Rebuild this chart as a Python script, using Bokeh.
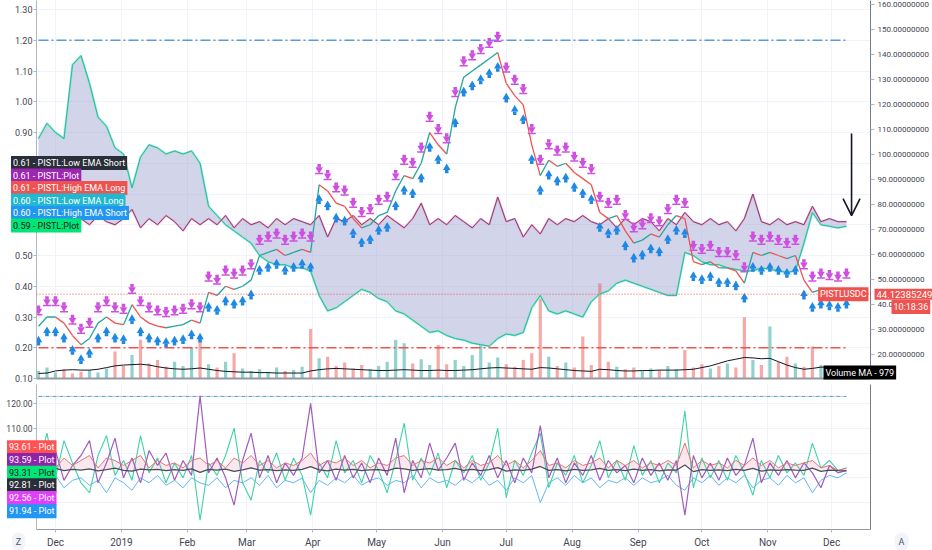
from datetime import date
from bokeh.plotting import figure
from bokeh.models import (Range1d, LinearAxis, FixedTicker, PrintfTickFormatter,
                          Span, Label, Arrow, OpenHead, ColumnDataSource, GridBox)
from bokeh.embed import file_html
from bokeh.resources import INLINE

# ---------------- data ----------------
ORIGIN = date(2018, 12, 1)
month_starts = [date(2018, 12, 1), date(2019, 1, 1), date(2019, 2, 1), date(2019, 3, 1),
                date(2019, 4, 1), date(2019, 5, 1), date(2019, 6, 1), date(2019, 7, 1),
                date(2019, 8, 1), date(2019, 9, 1), date(2019, 10, 1), date(2019, 11, 1),
                date(2019, 12, 1)]
month_labels = ["Dec", "2019", "Feb", "Mar", "Apr", "May", "Jun", "Jul", "Aug",
                "Sep", "Oct", "Nov", "Dec"]
tick_days = [(d - ORIGIN).days for d in month_starts]

# sample days (days since 1 Dec 2018), one sample every 4 days
days = list(range(-8, 376, 4))

price = [0.27, 0.30, 0.30, 0.28, 0.24, 0.21, 0.23, 0.28, 0.30, 0.28,
         0.275, 0.34, 0.30, 0.28, 0.27, 0.265, 0.27, 0.275, 0.29, 0.28,
         0.38, 0.37, 0.40, 0.39, 0.40, 0.42, 0.50, 0.51, 0.52, 0.50,
         0.51, 0.52, 0.51, 0.73, 0.71, 0.67, 0.66, 0.62, 0.59, 0.60,
         0.63, 0.64, 0.71, 0.76, 0.75, 0.80, 0.90, 0.86, 0.83, 0.98,
         1.08, 1.10, 1.12, 1.14, 1.16, 1.06, 1.02, 0.99, 0.86, 0.76,
         0.81, 0.79, 0.80, 0.77, 0.75, 0.73, 0.64, 0.62, 0.63, 0.58,
         0.54, 0.55, 0.57, 0.56, 0.60, 0.63, 0.62, 0.48, 0.47, 0.48,
         0.46, 0.46, 0.45, 0.41, 0.51, 0.50, 0.51, 0.50, 0.49, 0.50,
         0.42, 0.38, 0.39, 0.385, 0.38, 0.39]

low_ema_long = [0.88, 0.93, 0.90, 0.88, 1.12, 1.15, 1.06, 0.95, 0.92, 0.85,
                0.83, 0.72, 0.82, 0.86, 0.85, 0.83, 0.84, 0.83, 0.84, 0.80,
                0.66, 0.63, 0.60, 0.58, 0.56, 0.54, 0.50, 0.48, 0.47, 0.47,
                0.46, 0.46, 0.45, 0.37, 0.32, 0.33, 0.35, 0.37, 0.39, 0.38,
                0.36, 0.35, 0.32, 0.31, 0.29, 0.27, 0.25, 0.255, 0.24, 0.23,
                0.225, 0.215, 0.21, 0.205, 0.23, 0.245, 0.24, 0.25, 0.33, 0.37,
                0.32, 0.31, 0.32, 0.31, 0.30, 0.35, 0.375, 0.385, 0.41, 0.42,
                0.41, 0.40, 0.39, 0.38, 0.37, 0.37, 0.51, 0.50, 0.48, 0.47,
                0.47, 0.46, 0.455, 0.45, 0.45, 0.46, 0.455, 0.45, 0.445, 0.45,
                0.54, 0.64, 0.60, 0.595, 0.59, 0.595]

high_ema_long = [0.62, 0.60, 0.63, 0.61, 0.59, 0.62, 0.60, 0.63, 0.61, 0.60,
                 0.62, 0.65, 0.59, 0.62, 0.60, 0.63, 0.61, 0.58, 0.62, 0.60,
                 0.62, 0.60, 0.63, 0.59, 0.62, 0.60, 0.61, 0.59, 0.62, 0.60,
                 0.62, 0.61, 0.60, 0.63, 0.56, 0.62, 0.61, 0.63, 0.60, 0.62,
                 0.60, 0.63, 0.61, 0.59, 0.62, 0.67, 0.60, 0.62, 0.60, 0.63,
                 0.61, 0.59, 0.62, 0.60, 0.69, 0.61, 0.62, 0.56, 0.60, 0.57,
                 0.62, 0.60, 0.62, 0.61, 0.63, 0.61, 0.60, 0.62, 0.59, 0.62,
                 0.60, 0.62, 0.61, 0.58, 0.62, 0.60, 0.64, 0.61, 0.60, 0.62,
                 0.60, 0.61, 0.58, 0.62, 0.70, 0.61, 0.60, 0.62, 0.60, 0.61,
                 0.60, 0.66, 0.61, 0.62, 0.61, 0.61]

volume = [900, 1300, 700, 1100, 600, 800, 1000, 700, 1200, 3200,
          1500, 2800, 4600, 1800, 2200, 1400, 2000, 1500, 3700, 4600,
          1700, 1300, 2000, 3000, 1200, 900, 1100, 800, 1300, 900,
          1000, 1400, 5900, 2400, 2600, 1500, 1900, 1200, 1600, 1100,
          1500, 2000, 4600, 4200, 1800, 2300, 1600, 4000, 1700, 2200,
          1500, 2800, 4000, 1900, 2500, 1700, 1400, 2200, 3000, 9500,
          2600, 1500, 1900, 1300, 5000, 1600, 11300, 2000, 1400, 1100,
          1300, 900, 1200, 1000, 1500, 1100, 3400, 1300, 1700, 1200,
          1500, 1800, 1300, 7300, 2200, 1600, 6200, 2000, 2600, 1800,
          1400, 3800, 1600, 1100, 1300, 900]

volume_ma = [600, 650, 900, 1000, 1050, 1000, 1000, 1100, 1300, 1500,
             1600, 1650, 1700, 1600, 1400, 1250, 1150, 1100, 1150, 1250,
             1100, 950, 850, 800, 750, 750, 700, 700, 650, 650,
             650, 650, 900, 1050, 1150, 1200, 1150, 1100, 1050, 1000,
             950, 950, 1000, 1050, 1000, 950, 950, 1000, 950, 950,
             1000, 1050, 1150, 1250, 1300, 1250, 1200, 1150, 1100, 1300,
             1250, 1150, 1050, 950, 900, 850, 1100, 1050, 950, 900,
             900, 950, 950, 1000, 1000, 1000, 1050, 1100, 1300, 1500,
             1800, 2100, 2300, 2500, 2450, 2350, 2400, 2000, 1600, 1300,
             1100, 1200, 1350, 1350, 1300, 1300]

osc_green = [95, 108, 90, 105, 96, 88, 84, 99, 107, 91,
             97, 89, 107, 92, 98, 88, 96, 90, 99, 73,
             96, 91, 99, 110, 88, 81, 97, 92, 100, 89,
             98, 91, 75, 96, 90, 105, 92, 97, 88, 99,
             93, 84, 97, 112, 89, 98, 91, 100, 86, 97,
             92, 99, 89, 96, 110, 82, 97, 91, 100, 108,
             86, 96, 91, 99, 88, 95, 105, 90, 97, 89,
             103, 91, 97, 88, 96, 92, 117, 86, 98, 90,
             97, 89, 99, 92, 83, 97, 90, 99, 92, 96,
             91, 104, 94, 97, 93, 94]

osc_purple = [92, 97, 101, 89, 95, 99, 105, 88, 96, 106,
              90, 98, 88, 101, 95, 100, 89, 97, 91, 123,
              92, 98, 90, 79, 97, 108, 90, 99, 88, 96,
              91, 98, 120, 92, 97, 89, 99, 90, 96, 88,
              98, 91, 106, 84, 97, 90, 104, 93, 98, 104,
              89, 96, 91, 99, 90, 97, 88, 98, 92, 111,
              90, 98, 88, 96, 91, 99, 89, 97, 92, 95,
              88, 98, 91, 96, 89, 97, 75, 99, 90, 96,
              89, 98, 91, 95, 106, 88, 96, 91, 97, 90,
              96, 92, 86, 95, 92, 93]

osc_red = [96, 99, 94, 98, 95, 97, 99, 94, 98, 97,
           95, 97, 99, 94, 97, 95, 96, 94, 97, 98,
           95, 97, 94, 98, 96, 99, 95, 97, 94, 96,
           95, 97, 100, 95, 97, 96, 98, 95, 97, 94,
           96, 95, 98, 99, 95, 97, 96, 98, 95, 97,
           94, 97, 95, 96, 99, 95, 97, 94, 97, 101,
           95, 96, 94, 97, 95, 96, 98, 94, 97, 95,
           97, 94, 96, 95, 97, 95, 104, 94, 97, 95,
           96, 94, 97, 95, 98, 95, 97, 94, 96, 95,
           96, 97, 94, 95, 93, 94]

osc_blue = [90, 88, 91, 86, 89, 90, 87, 89, 84, 90,
            88, 85, 90, 88, 91, 87, 89, 86, 90, 88,
            87, 90, 86, 89, 88, 90, 87, 91, 86, 89,
            88, 90, 84, 89, 87, 90, 88, 91, 87, 89,
            90, 87, 89, 88, 91, 86, 90, 88, 89, 87,
            90, 88, 91, 87, 89, 85, 90, 88, 91, 80,
            88, 90, 87, 91, 88, 90, 86, 89, 88, 90,
            87, 90, 88, 89, 91, 87, 85, 90, 88, 91,
            87, 90, 88, 91, 86, 89, 90, 87, 91, 88,
            90, 84, 89, 91, 90, 92]

osc_dark = [93.5, 93.0, 93.8, 92.9, 93.4, 93.1, 93.6, 92.8, 93.3, 93.9,
            93.0, 92.7, 93.5, 93.2, 93.4, 92.9, 93.3, 93.0, 93.6, 92.2,
            93.4, 93.1, 93.5, 92.6, 93.2, 94.0, 93.1, 93.3, 92.9, 93.2,
            93.0, 93.4, 94.5, 93.2, 92.8, 93.5, 93.1, 93.4, 92.9, 93.2,
            93.3, 92.8, 93.9, 93.6, 93.0, 93.4, 93.7, 93.1, 93.3, 93.8,
            93.0, 93.4, 92.9, 93.3, 94.1, 92.7, 93.2, 93.0, 93.5, 94.6,
            93.0, 93.3, 92.8, 93.4, 93.0, 93.2, 93.8, 93.0, 93.3, 92.9,
            93.5, 93.0, 93.3, 92.8, 93.2, 93.1, 95.2, 92.5, 93.3, 93.0,
            93.2, 92.9, 93.4, 93.0, 93.8, 92.7, 93.2, 93.0, 93.3, 93.1,
            93.0, 93.9, 92.6, 93.1, 92.9, 92.8]

left_ticks = [0.10, 0.20, 0.30, 0.40, 0.50, 0.60, 0.70, 0.80, 0.90, 1.00, 1.10, 1.20, 1.30]
right_ticks = [20, 30, 40, 50, 60, 70, 80, 90, 100, 110, 120, 130, 140, 150, 160]
osc_ticks = [80, 90, 100, 110, 120]

upper_level = 1.20
lower_level = 0.20
osc_level = 122.8
last_price = 44.12385249
countdown = "10:18:36"
symbol = "PISTLUSDC"
volume_ma_last = 979

main_legend_values = ["0.61", "0.61", "0.61", "0.60", "0.60", "0.59"]
main_legend_names = ["PISTL:Low EMA Short", "PISTL:Plot", "PISTL:High EMA Long",
                     "PISTL:Low EMA Long", "PISTL:High EMA Short", "PISTL:Plot"]
osc_legend_values = ["93.61", "93.59", "93.31", "92.81", "92.56", "91.94"]

# annotation arrow (price units)
arrow_day = 374.4
arrow_from = 0.897
arrow_to = 0.630

# ---------------- styling / layout ----------------
FONT = "Roboto"
TXT = "#434651"
GRID = "#f0f3fa"
W = 932
H1, H2 = 384, 166
BL, BR = 36, 61                 # left / right border widths
X_START, X_END = -8.925, 383.31  # visible days


def style_axis(ax, size="9px", tick=3, standoff=1):
    ax.major_label_text_font = FONT
    ax.major_label_text_font_size = size
    ax.major_label_text_color = TXT
    ax.major_tick_out = tick
    ax.major_tick_in = 0
    ax.minor_tick_out = 0
    ax.minor_tick_in = 0
    ax.major_label_standoff = standoff
    ax.minor_tick_line_color = None
    ax.axis_line_color = "#b2b5be"
    ax.major_tick_line_color = "#b2b5be"


# ---------------- main pane ----------------
p1 = figure(width=W, height=H1, x_range=Range1d(X_START, X_END), y_range=Range1d(0.1, 1.3293),
            output_backend="svg", toolbar_location=None, min_border_left=BL,
            min_border_right=BR, min_border_top=0, min_border_bottom=6)
p1.outline_line_color = None
p1.extra_y_ranges = {"right": Range1d(10.4, 161.6), "vol": Range1d(0, 45000)}

xa = p1.xaxis[0]
xa.ticker = FixedTicker(ticks=[])
xa.major_tick_out = 0
xa.major_tick_in = 0
xa.minor_tick_out = 0
xa.minor_tick_in = 0
xa.major_label_standoff = 0
xa.major_tick_line_color = None
xa.minor_tick_line_color = None
xa.axis_line_color = "#9598a1"
xa.axis_line_width = 2
p1.xgrid[0].ticker = FixedTicker(ticks=tick_days)

ya = p1.yaxis[0]
ya.ticker = FixedTicker(ticks=left_ticks)
ya.formatter = PrintfTickFormatter(format="%.2f")
style_axis(ya, "9px", tick=3, standoff=1)

ra = LinearAxis(y_range_name="right", ticker=FixedTicker(ticks=right_ticks),
                formatter=PrintfTickFormatter(format="%.8f"))
style_axis(ra, "8px", tick=4, standoff=3)
ra.axis_line_color = "#787b86"
p1.add_layout(ra, "right")

p1.xgrid.grid_line_color = GRID
p1.ygrid.grid_line_color = GRID

p1.varea(x=days, y1=low_ema_long, y2=high_ema_long, fill_color="#9c9fd0", fill_alpha=0.45)

p1.add_layout(Span(location=last_price, dimension="width", y_range_name="right",
                   line_color="#ef5350", line_dash="1 2", line_width=1))

vol_colors = ["#26a69a"] + ["#26a69a" if price[i] >= price[i - 1] else "#ef5350"
                            for i in range(1, len(price))]
vsrc = ColumnDataSource(dict(x=days, top=volume, c=vol_colors))
p1.vbar(x="x", top="top", bottom=0, width=1.5, fill_color="c", line_color=None,
        fill_alpha=0.5, y_range_name="vol", source=vsrc)
p1.line(days, volume_ma, line_color="#131722", line_width=1, y_range_name="vol")

p1.line([days[0], days[-1]], [upper_level, upper_level], line_color="#5b9bd5",
        line_width=1.5, line_dash="10 3 2 3")
p1.line([days[0], days[-1]], [lower_level, lower_level], line_color="#ef5350",
        line_width=1.5, line_dash="10 3 2 3")

p1.line(days, low_ema_long, line_color="#7be8b8", line_width=2.2, line_alpha=0.8)
p1.line(days, low_ema_long, line_color="#2bb3b0", line_width=1)
p1.line(days, high_ema_long, line_color="#f48fb1", line_width=2.0, line_alpha=0.7)
p1.line(days, high_ema_long, line_color="#7e3f80", line_width=1)

seg_colors = ["#26a69a" if price[i] >= price[i - 1] else "#ef5350" for i in range(1, len(price))]
p1.segment(x0=days[:-1], y0=price[:-1], x1=days[1:], y1=price[1:], line_color=seg_colors,
           line_width=1.3)

sell_head = [v + 0.050 for v in price]
sell_stem = [v + 0.062 for v in price]
sell_bar = [v + 0.037 for v in price]
buy_head = [v - 0.045 for v in price]
buy_stem = [v - 0.057 for v in price]
p1.scatter(days, sell_stem, marker="square", size=3.5, fill_color="#cf4fe0", line_color=None)
p1.scatter(days, sell_head, marker="inverted_triangle", size=7.5, fill_color="#cf4fe0",
           line_color=None)
p1.scatter(days, sell_bar, marker="dash", size=8, line_color="#cf4fe0", line_width=1.5)
p1.scatter(days, buy_stem, marker="square", size=3.5, fill_color="#1e88e5", line_color=None)
p1.scatter(days, buy_head, marker="triangle", size=7.5, fill_color="#1e88e5", line_color=None)

p1.add_layout(Arrow(end=OpenHead(size=17, line_width=1.6, line_color="#131722"),
                    x_start=arrow_day, y_start=arrow_from, x_end=arrow_day, y_end=arrow_to,
                    line_width=1.6, line_color="#131722"))

# ---------------- oscillator pane ----------------
p2 = figure(width=W, height=H2, x_range=p1.x_range, y_range=Range1d(69.2, 127.6),
            output_backend="svg", toolbar_location=None, min_border_left=BL,
            min_border_right=BR, min_border_top=0, min_border_bottom=20)
p2.outline_line_color = None

xb = p2.xaxis[0]
xb.ticker = FixedTicker(ticks=tick_days)
xb.major_label_overrides = dict(zip(tick_days, month_labels))
style_axis(xb, "10px", tick=3, standoff=4)
xb.axis_line_color = "#9598a1"

yb = p2.yaxis[0]
yb.ticker = FixedTicker(ticks=osc_ticks)
yb.formatter = PrintfTickFormatter(format="%.2f")
style_axis(yb, "8.5px", tick=3, standoff=1)

rb = LinearAxis(ticker=FixedTicker(ticks=[]), major_tick_line_color=None,
                minor_tick_line_color=None, axis_line_color="#787b86",
                major_tick_out=0, minor_tick_out=0, major_label_standoff=0)
p2.add_layout(rb, "right")

p2.xgrid.grid_line_color = GRID
p2.ygrid.grid_line_color = GRID

p2.varea(x=days, y1=osc_dark, y2=osc_red, fill_color="#f8bbd0", fill_alpha=0.35)
p2.line([days[0], days[-1]], [osc_level, osc_level], line_color="#4c9bd3", line_width=1,
        line_dash="4 1 1 1")
p2.line(days, osc_blue, line_color="#64b5f6", line_width=1)
p2.line(days, osc_green, line_color="#3fd3a4", line_width=1.1)
p2.line(days, osc_purple, line_color="#a05cbf", line_width=1.2)
p2.line(days, osc_red, line_color="#e57373", line_width=1)
p2.line(days, osc_dark, line_color="#4a4d57", line_width=1.2)

# ---------------- text overlay (page pixel coordinates, top-left origin) ----------------
ov = figure(width=W, height=H1 + H2, x_range=Range1d(0, W), y_range=Range1d(H1 + H2, 0),
            output_backend="svg", toolbar_location=None, x_axis_location=None,
            y_axis_location=None, min_border=0)
ov.frame_align = False
ov.outline_line_color = None
ov.background_fill_color = None
ov.border_fill_color = None
ov.xgrid.visible = False
ov.ygrid.visible = False


def tag(x, y, text, bg, color="white", align="left", size="9px", radius=0, pad=2):
    ov.add_layout(Label(x=x, y=y, text=text, text_font=FONT, text_font_size=size,
                        text_color=color, background_fill_color=bg, text_align=align,
                        text_baseline="middle", padding=pad, border_radius=radius))


main_colors = ["#2a2e39", "#9c27b0", "#ef5350", "#22b8cf", "#2196f3", "#00e676"]
main_text_colors = ["white", "white", "white", "white", "white", "#131722"]
row_y = [162.5, 175.0, 187.5, 200.0, 212.5, 225.0]
for val, name, bg, tc, yy in zip(main_legend_values, main_legend_names, main_colors,
                                 main_text_colors, row_y):
    tag(10.5, yy, f"{val} - {name}", bg, tc)

osc_colors = ["#ff5252", "#8e24aa", "#00e676", "#2a2e39", "#e040fb", "#2196f3"]
osc_text_colors = ["white", "white", "#131722", "white", "white", "white"]
osc_row_y = [446.8, 459.5, 472.2, 484.8, 497.5, 510.7]
for val, bg, tc, yy in zip(osc_legend_values, osc_colors, osc_text_colors, osc_row_y):
    tag(6.5, yy, f"{val} - Plot", bg, tc)

price_px = 293.7
tag(W - BR - 3, price_px, symbol, "#ef5350", align="right", size="9px")
tag(W - BR + 3, price_px, f"{last_price:.8f}", "#ef5350", size="9.5px")
tag(891, 306.5, countdown, "#ef5350", size="9px")
tag(823, 372, f"Volume MA - {volume_ma_last}", "#000000", size="9px")

tag(18, 541, "Z", "#f0f3fa", "#50535e", align="center", size="9px", radius=9, pad=4)
tag(901, 541, "A", "#f0f3fa", "#50535e", align="center", size="9px", radius=9, pad=4)

layout = GridBox(children=[(p1, 0, 0), (p2, 1, 0), (ov, 0, 0, 2, 1)], spacing=0)
open("out.html", "w").write(file_html(layout, INLINE))
